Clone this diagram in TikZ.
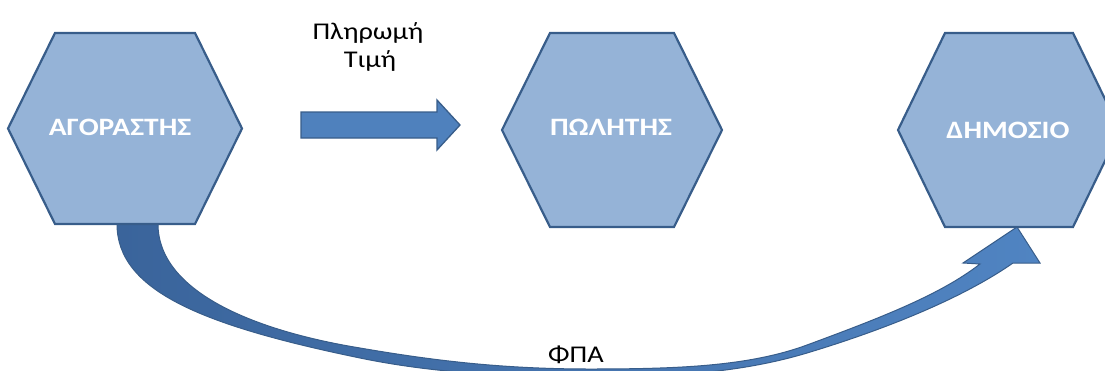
\documentclass[tikz,border=0pt]{standalone}
\usepackage{fontspec}
\setmainfont{Carlito}
\usepackage{graphicx}
\usetikzlibrary{calc}

\definecolor{hexfill}{HTML}{95B3D7}
\definecolor{hexline}{HTML}{385D8A}
\definecolor{arrowfill}{HTML}{4F81BD}
\definecolor{arrowlight}{HTML}{5084C2}
\definecolor{arrowdark}{HTML}{3A649B}

\tikzset{
  hexagon/.style={fill=hexfill, draw=hexline, line width=2.2pt, line join=miter},
  hexlabel/.style={text=white, font=\bfseries\fontsize{25}{29}\selectfont, anchor=base, inner sep=0pt},
  flowlabel/.style={text=black, font=\fontsize{24}{28}\selectfont, anchor=base, inner sep=0pt, align=center},
  blockarrow/.style={fill=arrowfill, draw=hexline, line width=1.3pt, line join=miter},
  curvedarrow/.style={left color=arrowdark, right color=arrowlight, draw=hexline, line width=1pt, line join=miter},
}

% widened lettering
\newcommand\widetext[1]{\scalebox{1.18}[1]{#1}}
% hexagon: centre x, centre y, half width, half top edge, half height
\newcommand\drawhexagon[5]{%
  \draw[hexagon] (#1-#3,#2) -- (#1-#4,#2-#5) -- (#1+#4,#2-#5) -- (#1+#3,#2)
    -- (#1+#4,#2+#5) -- (#1-#4,#2+#5) -- cycle;}

\begin{document}
\begin{tikzpicture}[x=1pt, y=-1pt]
  \useasboundingbox (0,0) rectangle (1105,370);
  \clip (0,0) rectangle (1105,370);

  % tax flow from buyer to the state, passing below the seller
  \coordinate (vatTailOut) at (117,224);
  \coordinate (vatTailIn) at (158,224);
  \coordinate (vatTip) at (1017,227);
  \path[curvedarrow]
    (vatTailOut) .. controls (117,290) and (200,325) .. (360,358)
    .. controls (440,374.5) and (520,377) .. (600,377)
    .. controls (680,377) and (747,371) .. (807,353)
    .. controls (880,331) and (960,300) .. (1013,263)
    -- (1040,263) -- (vatTip) -- (963,263) -- (980,264)
    .. controls (940,295) and (880,318) .. (807,345)
    .. controls (750,366) and (680,369) .. (590,369)
    .. controls (500,369) and (430,360) .. (360,348)
    .. controls (250,330) and (158,290) .. (vatTailIn)
    -- cycle;

  % the three parties
  \drawhexagon{125}{128.5}{117}{70}{95.5}
  \drawhexagon{612}{130}{110}{62}{97}
  \drawhexagon{1009}{130}{111}{64}{97}

  \node[hexlabel] (buyer)  at (120,135.5) {\widetext{ΑΓΟΡΑΣΤΗΣ}};
  \node[hexlabel] (seller) at (611,135.5) {\widetext{ΠΩΛΗΤΗΣ}};
  \node[hexlabel] (state)  at (1008,138.5) {\widetext{ΔΗΜΟΣΙΟ}};

  % payment of the price from buyer to seller
  \coordinate (payTail) at (301,125);
  \coordinate (payTip) at (460,125);
  \draw[blockarrow, shift={(payTail)}]
    (0,-13) -- (136,-13) -- (136,-25) -- (159,0) -- (136,25) -- (136,13) -- (0,13) -- cycle;

  \node[flowlabel] (pay1) at (368,39) {\widetext{Πληρωμή}};
  \node[flowlabel] (pay2) at (370,67) {\widetext{Τιμή}};
  \node[flowlabel] (vat)  at (576,362) {\widetext{ΦΠΑ}};
\end{tikzpicture}
\end{document}
